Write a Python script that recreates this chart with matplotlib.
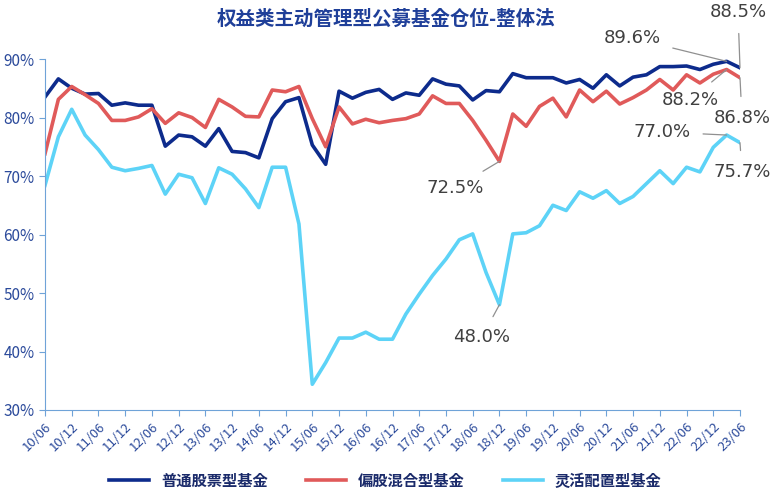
import numpy as np
import matplotlib.pyplot as plt
from matplotlib import font_manager as fm

# pick an installed CJK font file
cjk = [f for f in fm.findSystemFonts() if 'CJK' in f]
if cjk:
    fm.fontManager.addfont(cjk[0])
    cjk_name = fm.FontProperties(fname=cjk[0]).get_name()
else:
    cjk_name = 'Noto Sans CJK SC'
plt.rcParams['font.family'] = [cjk_name, 'DejaVu Sans']

names = ['普通股票型基金', '偏股混合型基金', '灵活配置型基金']
ticklabels = ['%02d/%s' % (y, m) for y in range(10, 24) for m in ('06', '12')][:-1]

stock = [83.5, 86.6, 85.0, 84.0, 84.1, 82.1, 82.5, 82.1, 82.1, 75.1, 77.0, 76.7, 75.1,
         78.1, 74.2, 74.0, 73.1, 79.8, 82.7, 83.4, 75.3, 72.0, 84.5, 83.3, 84.3, 84.8,
         83.1, 84.2, 83.8, 86.6, 85.7, 85.4, 83.0, 84.6, 84.4, 87.5, 86.8, 86.8, 86.8,
         85.9, 86.5, 85.0, 87.3, 85.4, 86.9, 87.3, 88.7, 88.7, 88.8, 88.2, 89.1, 89.6, 88.5]
mixed = [73.8, 83.1, 85.3, 83.9, 82.4, 79.5, 79.5, 80.1, 81.5, 79.0, 80.8, 80.0, 78.3,
         83.1, 81.8, 80.2, 80.1, 84.7, 84.4, 85.3, 79.8, 75.0, 81.8, 78.9, 79.7, 79.1,
         79.5, 79.8, 80.6, 83.7, 82.4, 82.4, 79.5, 76.1, 72.5, 80.6, 78.5, 81.9, 83.3,
         80.1, 84.7, 82.7, 84.5, 82.3, 83.4, 84.7, 86.5, 84.7, 87.3, 85.9, 87.4, 88.2, 86.8]
flexible = [68.4, 76.7, 81.4, 77.0, 74.5, 71.5, 70.9, 71.3, 71.8, 66.9, 70.3, 69.7, 65.3,
            71.4, 70.3, 67.8, 64.6, 71.5, 71.5, 61.8, 34.4, 38.1, 42.3, 42.3, 43.3, 42.1,
            42.1, 46.4, 49.8, 53.0, 55.8, 59.1, 60.1, 53.5, 48.0, 60.1, 60.3, 61.5, 65.0,
            64.1, 67.3, 66.2, 67.5, 65.3, 66.5, 68.7, 70.9, 68.7, 71.5, 70.7, 74.9, 77.0, 75.7]

colors = ['#0d2b8c', '#e05a5a', '#5dd3f7']
axc = '#6fa3d8'
txc = '#2b4a9b'

fig = plt.figure(figsize=(7.71, 5), dpi=100)
ax = fig.add_axes([45/771, 90/500, 695/771, 351/500])
x = np.arange(len(stock))
for s, c, n in zip([stock, mixed, flexible], colors, names):
    ax.plot(x, s, color=c, lw=2.6, label=n)

ax.set_xlim(0, len(stock) - 1)
ax.set_ylim(30, 90)
ax.set_yticks(range(30, 91, 10))
ax.set_yticklabels(['%d%%' % v for v in range(30, 91, 10)], fontsize=11)
ax.set_xticks(np.arange(0, len(stock), 2))
ax.set_xticklabels(ticklabels, rotation=45, ha='right', rotation_mode='anchor', fontsize=9.5)
for sp in ['top', 'right']:
    ax.spines[sp].set_visible(False)
for sp in ['left', 'bottom']:
    ax.spines[sp].set_color(axc)
ax.tick_params(colors=axc, length=4)
ax.tick_params(axis='both', labelcolor=txc)

# annotations: (series, index, text position in figure pixels)
notes = [(mixed, 34, (455, 312)), (flexible, 34, (482, 163)),
         (mixed, 51, (690, 400)), (mixed, 52, (742, 382)),
         (flexible, 51, (662, 368)), (flexible, 52, (742, 328)),
         (stock, 51, (632, 462)), (stock, 52, (738, 488))]
for s, i, pos in notes:
    ax.annotate('%.1f%%' % s[i], xy=(i, s[i]), xytext=pos, textcoords='figure pixels',
                ha='center', va='center', fontsize=13, color='#404040', family='DejaVu Sans',
                arrowprops=dict(arrowstyle='-', color='#909090', lw=0.9, shrinkA=7, shrinkB=0))

fig.text(0.5, 0.962, '权益类主动管理型公募基金仓位-整体法', ha='center', va='center',
         fontsize=14, fontweight='bold', color='#1f3f99')
leg = fig.legend(loc='lower center', bbox_to_anchor=(0.5, -0.005), ncol=3, frameon=False,
                 handlelength=2.6, columnspacing=2.5,
                 prop={'family': cjk_name, 'weight': 'bold', 'size': 11})
for t in leg.get_texts():
    t.set_color('#1a2a6a')

fig.savefig('out.png', dpi=100)
